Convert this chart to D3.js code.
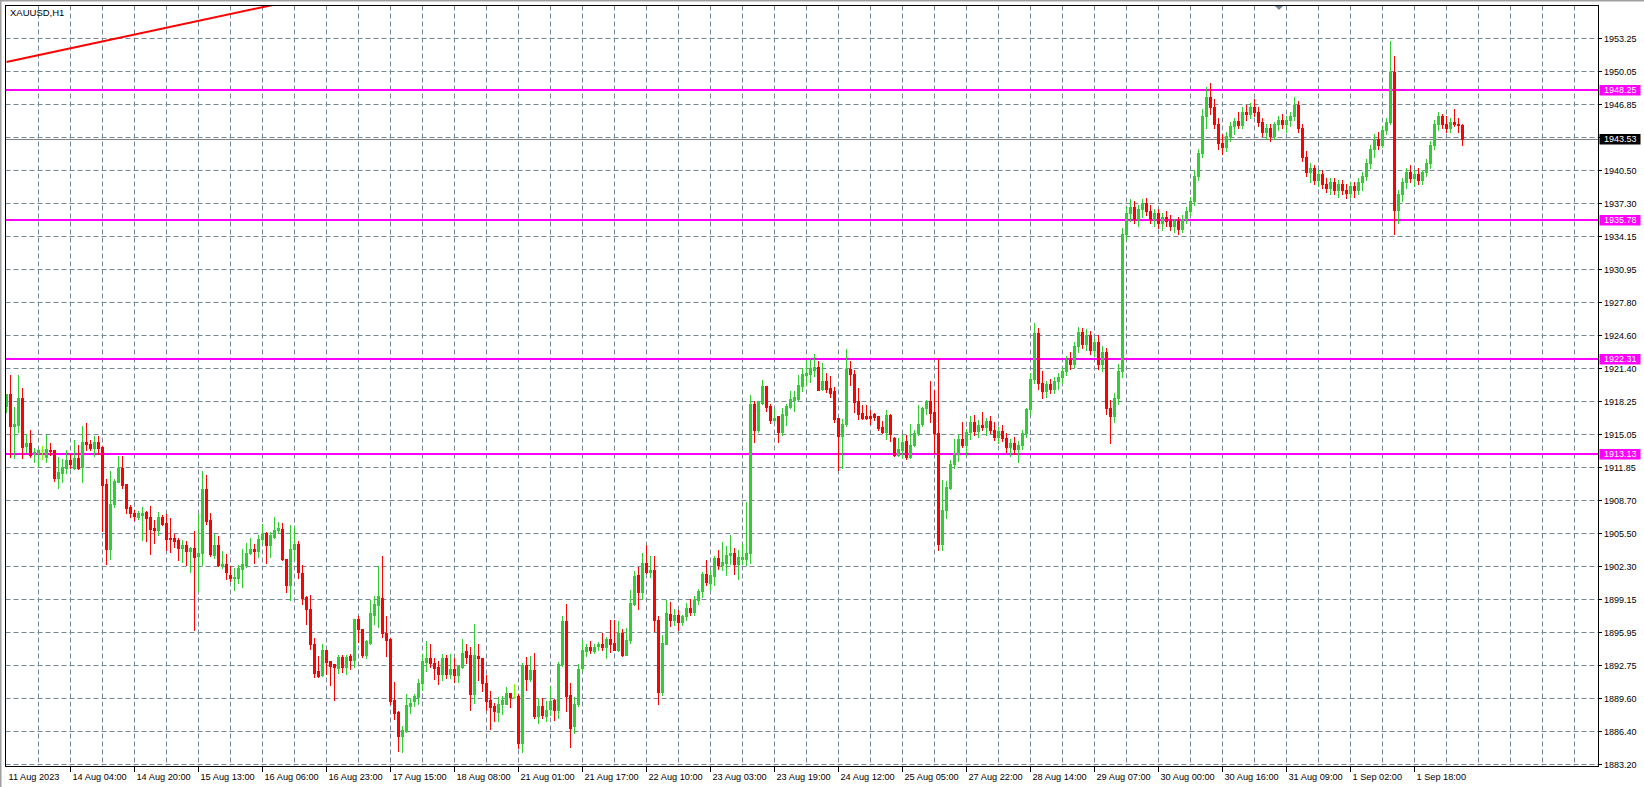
<!DOCTYPE html>
<html><head><meta charset="utf-8">
<script src="https://cdn.jsdelivr.net/npm/d3@7"></script>
<style>html,body{margin:0;padding:0;background:#fff;overflow:hidden}svg{display:block}</style>
</head><body>
<svg id="c" width="1644" height="787"></svg>
<script>
const symbolTitle = "XAUUSD,H1";

const open = [
1917.80,1918.93,1915.87,1915.94,1918.58,1913.91,1914.20,1913.20,1913.30,1913.53,
1912.88,1913.59,1913.53,1910.86,1911.34,1911.82,1912.56,1911.82,1912.79,1911.92,
1914.30,1914.10,1913.75,1914.30,1913.85,1910.25,1903.97,1908.32,1910.47,1911.85,
1910.25,1908.06,1907.48,1907.09,1907.32,1907.58,1907.09,1906.03,1905.81,1907.09,
1906.51,1905.07,1905.07,1904.84,1904.10,1904.36,1903.81,1904.10,1903.30,1903.62,
1909.83,1906.77,1903.46,1904.36,1902.34,1902.53,1901.47,1901.21,1901.21,1902.05,
1902.43,1903.56,1903.97,1903.81,1904.94,1905.55,1904.36,1905.16,1905.81,1905.97,
1903.01,1900.50,1903.97,1904.52,1901.72,1899.37,1898.25,1894.87,1892.20,1891.82,
1894.23,1893.17,1892.85,1892.52,1893.59,1892.62,1893.68,1893.26,1897.22,1896.32,
1893.75,1894.94,1897.67,1898.57,1899.31,1895.93,1895.29,1889.40,1888.28,1885.96,
1886.45,1888.86,1889.34,1889.73,1891.08,1893.10,1893.43,1893.04,1892.56,1891.91,
1893.52,1891.91,1892.46,1891.82,1892.62,1894.13,1893.75,1889.98,1893.65,1893.52,
1891.11,1889.40,1888.83,1888.28,1889.02,1889.02,1890.14,1889.73,1889.79,1885.29,
1892.78,1891.43,1892.30,1887.86,1888.83,1887.86,1888.53,1889.40,1888.44,1892.88,
1897.03,1889.89,1886.90,1889.02,1892.52,1894.16,1894.55,1894.16,1894.61,1894.87,
1894.49,1895.35,1894.97,1894.29,1895.84,1893.75,1895.26,1898.73,1901.47,1899.86,
1902.69,1901.79,1902.01,1897.19,1890.21,1894.87,1897.70,1897.12,1897.61,1896.96,
1897.51,1898.30,1897.90,1899.10,1899.90,1901.56,1900.76,1901.37,1903.17,1902.43,
1902.66,1903.40,1903.65,1902.53,1903.01,1903.07,1903.56,1917.96,1915.46,1918.09,
1919.70,1917.77,1916.42,1916.81,1915.30,1916.90,1917.71,1918.35,1918.51,1919.70,
1920.76,1920.92,1921.31,1921.57,1919.41,1920.18,1919.54,1919.25,1916.65,1914.91,
1916.03,1921.34,1920.86,1918.25,1917.13,1916.81,1916.81,1917.00,1916.81,1915.78,
1915.30,1916.90,1914.72,1913.11,1913.53,1914.39,1912.88,1914.07,1915.20,1916.03,
1917.61,1918.25,1917.23,1915.23,1904.46,1907.74,1909.89,1912.18,
1913.2,1914.6,1914.0,1915.3,1916.2,1915.4,1916.0,1915.8,1916.3,1915.5,
1914.8,1915.4,1914.7,1913.8,1914.2,1913.6,1914.0,1915.2,1917.5,1920.4,
1924.8,1920.0,1919.2,1919.9,1919.4,1920.2,1920.6,1921.2,1922.2,1921.8,
1923.6,1924.9,1923.8,1924.6,1923.2,1924.0,1921.8,1923.0,1917.6,1916.8,
1918.6,1921.2,1934.4,1936.4,1937.0,1935.8,1936.8,1937.4,1936.6,1935.8,
1936.4,1935.4,1936.0,1935.6,1935.2,1935.6,1934.9,1935.8,1936.6,1937.6,
1940.0,1942.2,1945.8,1947.6,1946.6,1945.0,1943.2,1942.8,1943.8,1944.8,
1945.3,1944.9,1946.2,1946.0,1946.6,1946.2,1945.2,1944.2,1944.6,1943.8,
1945.0,1945.4,1945.0,1945.4,1945.8,1946.8,1944.6,1941.8,1940.4,1940.8,
1939.6,1940.2,1939.2,1938.8,1939.4,1938.6,1939.2,1938.6,1938.3,1939.0,
1938.6,1939.4,1940.0,1941.2,1942.6,1943.6,1943.0,1944.4,1945.2,1950.0,
1936.7,1938.2,1939.4,1940.4,1939.8,1940.2,1939.6,1940.4,1941.2,1943.0,
1945.0,1945.8,1945.0,1944.6,1945.2,1945.0,1944.9
];
const high = [
1918.99,1920.76,1917.71,1920.76,1919.48,1915.13,1915.46,1913.75,1913.69,1913.91,
1914.97,1914.23,1913.59,1912.88,1912.66,1913.53,1913.20,1914.49,1914.01,1915.84,
1916.16,1914.49,1914.88,1914.88,1913.91,1910.79,1911.50,1910.79,1912.98,1912.98,
1910.25,1908.22,1907.74,1907.67,1908.06,1907.67,1908.12,1906.77,1907.58,1907.26,
1907.35,1906.97,1905.42,1905.10,1904.84,1904.78,1904.20,1905.71,1907.35,1911.50,
1911.11,1907.48,1905.42,1905.23,1903.78,1903.49,1902.34,1902.17,1902.49,1903.97,
1904.59,1905.10,1904.46,1905.33,1906.45,1905.65,1905.65,1907.09,1906.61,1906.55,
1903.07,1906.29,1906.07,1904.75,1902.49,1899.47,1899.54,1895.45,1893.68,1894.87,
1894.23,1893.17,1892.94,1893.75,1893.75,1893.75,1893.84,1897.22,1897.51,1896.32,
1895.19,1899.12,1899.47,1902.34,1903.30,1897.51,1895.36,1891.17,1888.37,1886.93,
1890.05,1889.57,1889.98,1891.49,1893.91,1895.10,1894.81,1893.52,1893.17,1893.91,
1893.75,1893.84,1893.43,1892.78,1895.35,1894.87,1894.49,1896.74,1894.81,1893.52,
1891.82,1890.27,1889.18,1889.73,1889.79,1890.63,1890.14,1891.01,1889.98,1893.01,
1893.59,1893.65,1893.97,1889.57,1889.57,1889.31,1890.75,1889.56,1893.10,1897.51,
1898.67,1891.11,1889.73,1892.94,1895.26,1894.87,1895.10,1894.78,1895.03,1895.90,
1895.52,1897.12,1897.12,1897.03,1896.26,1896.38,1900.08,1901.85,1902.27,1903.62,
1904.36,1903.30,1903.30,1897.51,1895.68,1899.05,1898.89,1898.25,1898.09,1897.61,
1898.80,1899.20,1899.50,1900.18,1901.79,1902.91,1902.01,1903.30,1903.88,1904.68,
1904.30,1905.32,1904.13,1903.94,1904.52,1908.48,1918.83,1918.25,1918.25,1920.28,
1919.70,1918.03,1917.48,1916.81,1917.55,1917.96,1919.22,1919.25,1920.76,1921.50,
1922.21,1922.37,1922.79,1922.11,1921.95,1920.99,1920.67,1919.64,1916.68,1916.58,
1923.27,1922.11,1921.31,1919.54,1917.93,1917.93,1917.45,1917.13,1916.81,1916.32,
1917.39,1917.00,1914.81,1914.75,1914.97,1914.97,1916.03,1915.46,1917.87,1917.71,
1918.35,1920.18,1919.32,1922.31,1910.63,1910.53,1912.56,1914.56,
1915.0,1916.2,1915.6,1916.8,1916.9,1916.4,1917.2,1916.6,1916.8,1916.2,
1915.8,1916.0,1915.2,1914.6,1914.8,1914.4,1915.5,1917.6,1921.0,1925.8,
1925.3,1921.2,1920.2,1920.4,1920.6,1921.0,1921.6,1922.6,1923.0,1924.0,
1925.4,1925.3,1925.2,1925.0,1924.4,1924.6,1923.6,1923.4,1918.4,1919.0,
1921.8,1935.0,1937.0,1937.8,1937.6,1937.2,1937.8,1937.9,1937.2,1936.8,
1936.8,1936.4,1936.6,1936.2,1935.8,1936.0,1936.2,1937.0,1938.0,1940.6,
1942.6,1946.4,1948.6,1949.0,1947.4,1945.6,1944.0,1944.2,1945.2,1945.6,
1946.2,1946.6,1946.8,1947.0,1947.4,1946.6,1945.6,1945.0,1945.0,1945.2,
1945.8,1946.0,1945.8,1946.2,1947.6,1947.2,1945.0,1942.4,1941.2,1941.0,
1940.6,1940.6,1939.8,1939.8,1939.8,1939.6,1939.6,1939.2,1939.4,1939.4,
1939.8,1940.4,1941.6,1943.0,1944.0,1944.2,1944.8,1945.6,1953.0,1951.6,
1938.6,1939.8,1940.8,1941.0,1940.6,1940.8,1940.6,1941.6,1943.4,1945.4,
1946.2,1946.0,1945.8,1945.6,1946.4,1945.6,1945.0
];
const low = [
1917.22,1912.88,1912.79,1915.30,1912.79,1913.37,1912.88,1912.40,1912.01,1912.63,
1912.40,1913.11,1910.57,1909.89,1910.47,1911.34,1911.85,1911.69,1911.76,1910.47,
1913.59,1913.59,1912.98,1913.20,1905.74,1902.53,1903.01,1908.03,1910.41,1909.92,
1907.51,1907.09,1906.77,1906.87,1904.84,1904.75,1903.49,1904.59,1905.33,1906.29,
1903.94,1903.69,1904.20,1902.91,1902.75,1902.43,1901.79,1896.16,1899.92,1902.43,
1906.45,1903.30,1903.14,1902.34,1902.17,1901.11,1900.89,1900.08,1900.73,1900.34,
1902.27,1903.49,1902.66,1903.19,1904.46,1902.69,1903.19,1905.07,1905.49,1902.91,
1899.86,1899.12,1902.91,1901.21,1898.73,1896.80,1894.33,1891.66,1891.66,1891.72,
1891.98,1890.85,1889.40,1892.04,1892.14,1891.98,1892.46,1892.56,1895.03,1893.59,
1893.49,1894.87,1896.80,1896.48,1895.52,1893.65,1889.02,1887.57,1884.53,1884.39,
1886.35,1888.21,1888.83,1889.02,1890.37,1892.23,1892.62,1891.43,1890.95,1891.40,
1891.56,1891.56,1891.17,1891.17,1892.52,1893.01,1888.44,1889.15,1891.33,1890.31,
1888.50,1886.61,1887.41,1887.41,1888.05,1889.02,1888.70,1889.66,1884.81,1884.39,
1890.43,1891.27,1887.64,1887.22,1887.64,1887.41,1887.96,1887.47,1887.70,1892.68,
1888.34,1884.87,1886.22,1888.86,1892.36,1893.68,1894.00,1893.97,1894.29,1894.29,
1893.49,1894.07,1894.23,1894.16,1893.65,1893.75,1894.94,1898.57,1898.18,1899.15,
1901.69,1901.30,1896.09,1888.99,1889.95,1894.78,1896.58,1896.64,1896.16,1896.64,
1897.10,1897.60,1897.60,1898.70,1899.40,1900.50,1900.02,1900.50,1902.11,1902.01,
1901.47,1902.59,1901.56,1901.08,1902.53,1902.43,1902.69,1914.33,1915.30,1918.03,
1917.32,1916.16,1916.32,1914.33,1915.04,1915.94,1917.64,1917.29,1918.41,1919.25,
1919.80,1920.12,1920.67,1919.32,1919.32,1919.15,1918.67,1916.26,1911.66,1911.82,
1915.84,1919.80,1917.22,1916.52,1916.52,1916.52,1916.10,1916.42,1915.52,1915.20,
1914.56,1914.43,1912.98,1912.98,1912.82,1912.63,1912.82,1913.91,1915.04,1915.84,
1917.06,1916.26,1913.27,1903.94,1903.94,1906.96,1909.76,1911.82,
1912.5,1913.8,1913.0,1914.6,1915.0,1914.8,1915.5,1915.0,1915.2,1914.5,
1914.2,1914.4,1913.4,1913.0,1913.2,1912.4,1913.6,1914.8,1917.0,1920.0,
1919.4,1918.6,1918.7,1919.0,1919.0,1919.4,1920.0,1920.8,1921.4,1921.5,
1923.0,1923.4,1923.2,1922.8,1922.6,1921.4,1921.2,1917.0,1914.2,1916.2,
1918.0,1920.6,1933.8,1935.6,1935.4,1935.2,1936.0,1936.2,1935.4,1935.2,
1935.0,1934.8,1935.2,1934.8,1934.6,1934.4,1934.6,1935.4,1936.2,1937.2,
1939.6,1941.8,1944.6,1946.0,1944.6,1942.6,1942.1,1942.4,1943.4,1944.0,
1944.6,1944.6,1945.4,1945.6,1945.8,1944.8,1943.8,1943.6,1943.4,1943.6,
1944.4,1944.6,1944.2,1944.8,1945.4,1944.2,1941.4,1940.0,1939.4,1939.2,
1939.0,1938.8,1938.4,1938.2,1938.2,1938.0,1938.2,1937.9,1938.0,1938.0,
1938.2,1938.6,1939.6,1940.8,1941.8,1942.6,1942.8,1944.0,1945.0,1934.4,
1935.4,1937.6,1938.8,1939.4,1939.0,1939.2,1939.2,1940.0,1940.8,1942.6,
1944.4,1944.6,1944.2,1944.2,1944.8,1944.2,1943.0
];
const close = [
1918.99,1915.87,1916.04,1918.58,1913.85,1914.20,1913.11,1913.37,1913.59,1913.53,
1913.69,1913.43,1910.86,1911.40,1911.92,1912.56,1912.21,1912.79,1911.85,1914.30,
1914.14,1913.75,1914.30,1913.75,1910.15,1903.97,1908.38,1910.54,1911.82,1910.15,
1907.96,1907.48,1907.19,1907.48,1907.48,1907.00,1905.90,1905.81,1907.09,1906.39,
1904.94,1904.94,1904.78,1904.10,1904.36,1903.81,1904.10,1903.19,1903.65,1909.76,
1906.68,1903.49,1904.36,1902.43,1902.53,1901.79,1901.21,1901.30,1902.17,1902.59,
1903.65,1903.97,1903.78,1904.94,1905.42,1904.36,1905.33,1905.87,1906.03,1902.98,
1900.50,1904.04,1904.52,1901.79,1899.28,1898.25,1894.87,1892.04,1891.72,1894.23,
1893.10,1892.68,1892.56,1893.59,1892.62,1893.59,1893.26,1897.22,1896.25,1893.75,
1895.10,1897.77,1898.64,1899.44,1895.84,1895.19,1889.31,1888.18,1885.96,1886.51,
1888.92,1889.15,1889.79,1891.11,1893.17,1893.43,1893.01,1892.52,1891.91,1893.43,
1891.91,1892.46,1891.82,1892.78,1894.00,1893.59,1889.98,1893.75,1893.49,1891.08,
1889.34,1888.76,1888.34,1889.08,1889.40,1890.14,1889.73,1889.73,1885.29,1892.78,
1891.43,1892.30,1887.86,1888.83,1887.96,1888.50,1889.31,1888.44,1892.88,1897.03,
1889.82,1886.72,1889.08,1892.46,1894.23,1894.55,1894.23,1894.55,1894.87,1894.49,
1895.35,1894.87,1894.29,1895.84,1893.75,1895.26,1898.83,1901.37,1899.86,1902.69,
1901.79,1902.01,1897.19,1890.21,1894.97,1897.77,1897.12,1897.61,1896.96,1897.51,
1898.30,1897.90,1899.10,1899.90,1901.56,1900.82,1901.47,1903.17,1902.43,1902.75,
1903.40,1903.62,1902.53,1903.23,1903.23,1903.56,1917.96,1915.46,1918.25,1919.70,
1917.71,1916.42,1916.68,1915.30,1917.00,1917.77,1918.45,1918.67,1919.80,1920.86,
1920.99,1921.41,1921.57,1919.38,1920.18,1919.41,1919.09,1916.52,1914.91,1916.10,
1921.34,1920.86,1918.19,1917.00,1916.68,1916.68,1916.65,1916.74,1915.68,1915.30,
1916.90,1915.07,1913.11,1913.62,1914.27,1912.88,1914.07,1915.23,1916.03,1917.61,
1918.25,1917.13,1915.14,1904.46,1907.74,1909.99,1912.24,1913.21,
1914.6,1914.0,1915.3,1916.2,1915.4,1916.0,1915.8,1916.3,1915.5,1914.8,
1915.4,1914.7,1913.8,1914.2,1913.6,1914.0,1915.2,1917.5,1920.4,1924.8,
1920.0,1919.2,1919.9,1919.4,1920.2,1920.6,1921.2,1922.2,1921.8,1923.6,
1924.9,1923.8,1924.6,1923.2,1924.0,1921.8,1923.0,1917.6,1916.8,1918.6,
1921.2,1934.4,1936.4,1937.0,1935.8,1936.8,1937.4,1936.6,1935.8,1936.4,
1935.4,1936.0,1935.6,1935.2,1935.6,1934.9,1935.8,1936.6,1937.6,1940.0,
1942.2,1945.8,1947.6,1946.6,1945.0,1943.2,1942.8,1943.8,1944.8,1945.3,
1944.9,1946.2,1946.0,1946.6,1946.2,1945.2,1944.2,1944.6,1943.8,1945.0,
1945.4,1945.0,1945.4,1945.8,1946.8,1944.6,1941.8,1940.4,1940.8,1939.6,
1940.2,1939.2,1938.8,1939.4,1938.6,1939.2,1938.6,1938.3,1939.0,1938.6,
1939.4,1940.0,1941.2,1942.6,1943.6,1943.0,1944.4,1945.2,1950.0,1936.7,
1938.2,1939.4,1940.4,1939.8,1940.2,1939.6,1940.4,1941.2,1943.0,1945.0,
1945.8,1945.0,1944.6,1945.2,1945.0,1944.9,1943.53
];

const xLabels = ["11 Aug 2023","14 Aug 04:00","14 Aug 20:00","15 Aug 13:00","16 Aug 06:00","16 Aug 23:00",
"17 Aug 15:00","18 Aug 08:00","21 Aug 01:00","21 Aug 17:00","22 Aug 10:00","23 Aug 03:00","23 Aug 19:00",
"24 Aug 12:00","25 Aug 05:00","27 Aug 22:00","28 Aug 14:00","29 Aug 07:00","30 Aug 00:00","30 Aug 16:00",
"31 Aug 09:00","1 Sep 02:00","1 Sep 18:00"];
const barsPerLabel = 16;
const barsPerGrid = 8;
const yTickValues = [1883.20,1886.40,1889.60,1892.75,1895.95,1899.15,1902.30,1905.50,1908.70,1911.85,
1915.05,1918.25,1921.40,1924.60,1927.80,1930.95,1934.15,1937.30,1940.50,1943.70,1946.85,1950.05,1953.25];
const levelPrices = [1948.25, 1935.78, 1922.31, 1913.13];
const bidPrice = 1943.53;
const trendBars = [0, 80];
const trendPrices = [1950.99, 1957.59];

const svg = d3.select("#c");
const FL = 5.5, FT = 5.5, FR = 1598.5, FB = 766.5;
const font = "'Liberation Sans', Arial, sans-serif";
const GRID = "#778899";
const BULL = "#32CD32", BEAR = "#FF0000", DOJI = "#7CFC00";

const x = d3.scaleLinear().domain([0, 1]).range([6.5, 10.5]);
const y = d3.scaleLinear().domain([1883.20, 1953.25]).range([764.5, 38.5]);
const crisp = v => Math.round(v - 0.5) + 0.5;

svg.append("rect").attr("width",1644).attr("height",787).attr("fill","#fff");
svg.append("rect").attr("x",0).attr("y",0).attr("width",1644).attr("height",1.5).attr("fill","#a0a0a0");
svg.append("rect").attr("x",0).attr("y",0).attr("width",1.5).attr("height",787).attr("fill","#a0a0a0");

svg.append("defs").append("clipPath").attr("id","plot")
  .append("rect").attr("x",6).attr("y",6).attr("width",FR-6).attr("height",FB-6);

const grid = svg.append("g").attr("stroke",GRID).attr("stroke-width",1).attr("stroke-dasharray","5,3");
yTickValues.forEach(v => {
  const yy = crisp(y(v));
  grid.append("line").attr("x1",FL).attr("x2",FR).attr("y1",yy).attr("y2",yy);
});
for (let b = barsPerGrid; x(b) < FR - 2; b += barsPerGrid) {
  const xx = x(b);
  grid.append("line").attr("x1",xx).attr("x2",xx).attr("y1",FT).attr("y2",FB);
}

const plot = svg.append("g").attr("clip-path","url(#plot)");

plot.append("line").attr("x1",FL).attr("x2",FR)
  .attr("y1",crisp(y(bidPrice))).attr("y2",crisp(y(bidPrice)))
  .attr("stroke","#808080").attr("stroke-width",1);

levelPrices.forEach(p => {
  const yy = Math.round(y(p));
  plot.append("line").attr("x1",FL).attr("x2",FR).attr("y1",yy).attr("y2",yy)
    .attr("stroke","#FF00FF").attr("stroke-width",2);
});

plot.append("line")
  .attr("x1",x(trendBars[0])).attr("y1",y(trendPrices[0]))
  .attr("x2",x(trendBars[1])).attr("y2",y(trendPrices[1]))
  .attr("stroke","#FF0000").attr("stroke-width",2);

const cg = plot.append("g").attr("shape-rendering","crispEdges");
open.forEach((o, i) => {
  const c = close[i], h = high[i], l = low[i];
  const col = Math.abs(o - c) < 0.005 ? DOJI : (c > o ? BULL : BEAR);
  const cx = x(i);
  const yh = Math.round(y(h)), yl = Math.round(y(l));
  cg.append("rect").attr("x",cx-0.5).attr("width",1).attr("y",yh).attr("height",Math.max(1,yl-yh+1)).attr("fill",col);
  const yt = Math.round(y(Math.max(o,c))), yb = Math.round(y(Math.min(o,c)));
  cg.append("rect").attr("x",cx-1.5).attr("width",3).attr("y",yt).attr("height",Math.max(1,yb-yt+1)).attr("fill",col);
});

svg.append("rect").attr("x",FL).attr("y",FT).attr("width",FR-FL).attr("height",FB-FT)
  .attr("fill","none").attr("stroke","#000").attr("stroke-width",1);

svg.append("text").attr("x",10).attr("y",16).attr("font-family",font).attr("font-size",9.5)
  .attr("fill","#000").text(symbolTitle);

const yAxis = svg.append("g");
const boxes = levelPrices.map(p => y(p)).concat([y(bidPrice)]);
yTickValues.forEach(v => {
  const yy = crisp(y(v));
  yAxis.append("line").attr("x1",FR).attr("x2",FR+3.5).attr("y1",yy).attr("y2",yy).attr("stroke","#000");
  if (boxes.some(b => Math.abs(b - yy) < 4)) return;
  yAxis.append("text").attr("x",1604).attr("y",yy+3.2).attr("font-family",font).attr("font-size",9)
    .attr("fill","#000").text(v.toFixed(2));
});
function priceBox(p, bg) {
  const yy = Math.round(y(p));
  yAxis.append("rect").attr("x",1599.5).attr("y",yy-5).attr("width",41).attr("height",10.5).attr("fill",bg);
  yAxis.append("text").attr("x",1604).attr("y",yy+3.4).attr("font-family",font).attr("font-size",9)
    .attr("fill","#fff").text(p.toFixed(2));
}
levelPrices.forEach(p => priceBox(p, "#FF00FF"));
priceBox(bidPrice, "#000");

const xAxis = svg.append("g");
xLabels.forEach((lab, k) => {
  const xx = x(k * barsPerLabel);
  if (k > 0) xAxis.append("line").attr("x1",xx).attr("x2",xx).attr("y1",FB).attr("y2",FB+5.5).attr("stroke","#000");
  xAxis.append("text").attr("x",xx+2).attr("y",780).attr("font-family",font).attr("font-size",9.2)
    .attr("fill","#000").text(lab);
});

svg.append("path").attr("d","M1275,6 L1283,6 L1279,10 Z").attr("fill",GRID);
</script>
</body></html>
